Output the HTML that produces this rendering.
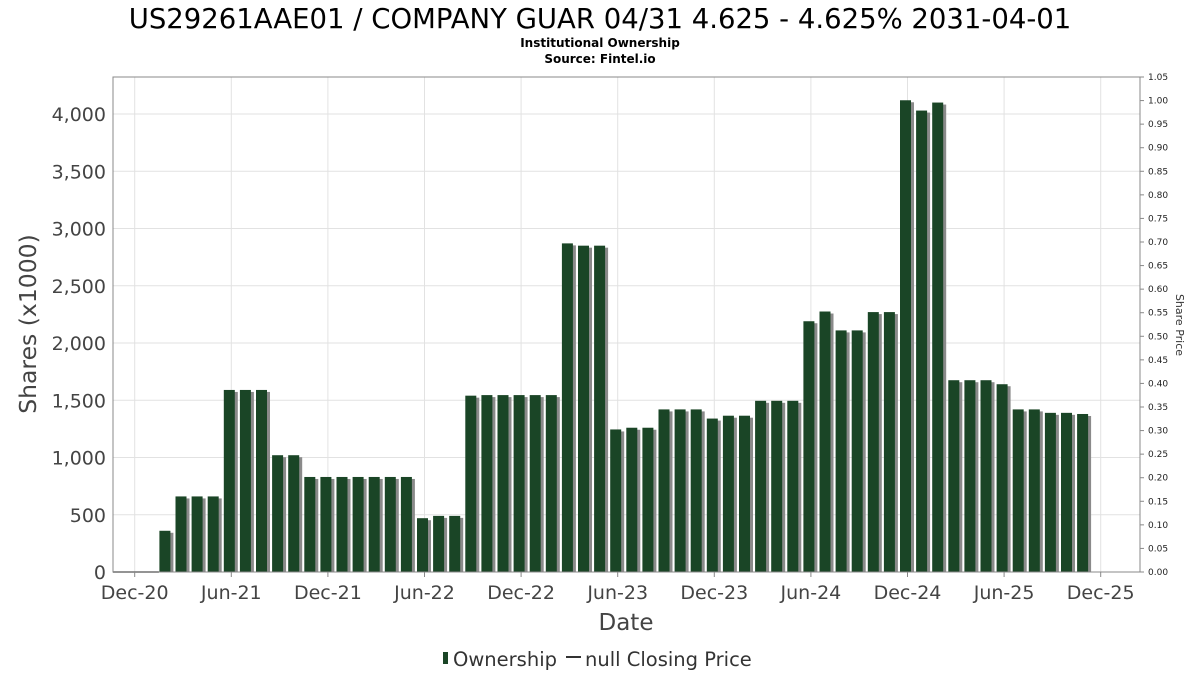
<!DOCTYPE html>
<html><head><meta charset="utf-8"><style>
body{margin:0;background:#fff;font-family:"DejaVu Sans","Liberation Sans",sans-serif}
svg text{font-family:"DejaVu Sans","Liberation Sans",sans-serif}
</style></head><body>
<svg id="c" width="1200" height="675" xmlns="http://www.w3.org/2000/svg">
<text x="600" y="28" text-anchor="middle" font-size="27.5" fill="#000">US29261AAE01 / COMPANY GUAR 04/31 4.625 - 4.625% 2031-04-01</text>
<text x="600" y="47" text-anchor="middle" font-size="12" font-weight="bold">Institutional Ownership</text>
<text x="600" y="63" text-anchor="middle" font-size="12" font-weight="bold">Source: Fintel.io</text>
<g id="grid"></g>
<g id="bars"></g>
<g id="axes"></g>
<text x="36" y="324" transform="rotate(-90 36 324)" text-anchor="middle" font-size="23.5" fill="#444">Shares (x1000)</text>
<text x="1176" y="325" transform="rotate(90 1176 325)" text-anchor="middle" font-size="11" fill="#333">Share Price</text>
<text x="626" y="630" text-anchor="middle" font-size="23" fill="#444">Date</text>
<g>
<rect x="443" y="652" width="5" height="12" fill="#1a4526"/>
<text x="453" y="666" font-size="19.5" fill="#333">Ownership</text>
<line x1="566" y1="657" x2="581" y2="657" stroke="#333" stroke-width="2"/>
<text x="585" y="666" font-size="19.5" fill="#333">null Closing Price</text>
</g>
</svg>
<script>
const months = [2,3,4,5,6,7,8,9,10,11,12,13,14,15,16,17,18,19,20,21,22,23,24,25,26,27,28,29,30,31,32,33,34,35,36,37,38,39,40,41,42,43,44,45,46,47,48,49,50,51,52,53,54,55,56,57,58,59];
const shares = [360,660,660,660,1590,1590,1590,1020,1020,830,830,830,830,830,830,830,470,490,490,1540,1545,1545,1545,1545,1545,2870,2850,2850,1245,1260,1260,1420,1420,1420,1340,1365,1365,1495,1495,1495,2190,2275,2110,2110,2270,2270,4120,4030,4100,1675,1675,1675,1640,1420,1420,1390,1390,1380];
const yTicks = [0,500,1000,1500,2000,2500,3000,3500,4000];
const yTickLabels = ["0","500","1,000","1,500","2,000","2,500","3,000","3,500","4,000"];
const xTickMonths = [0,6,12,18,24,30,36,42,48,54,60];
const xTickLabels = ["Dec-20","Jun-21","Dec-21","Jun-22","Dec-22","Jun-23","Dec-23","Jun-24","Dec-24","Jun-25","Dec-25"];
const priceTicks = [0,0.05,0.1,0.15,0.2,0.25,0.3,0.35,0.4,0.45,0.5,0.55,0.6,0.65,0.7,0.75,0.8,0.85,0.9,0.95,1.0,1.05];

const L=113,R=1140,T=77,B=572;
const y=v=>B-v*(B-114)/4000;
const yp=v=>B-v*(B-T)/1.05;
const x=m=>134.7+m*16.1;
const NS='http://www.w3.org/2000/svg';
function mk(tag,attrs,parent){const e=document.createElementNS(NS,tag);for(const k in attrs)e.setAttribute(k,attrs[k]);document.getElementById(parent).appendChild(e);return e;}
yTicks.forEach((v,i)=>{
  const g=mk('line',{x1:L,x2:R,y1:y(v),y2:y(v),stroke:'#e2e2e2'},'grid');
  
  
  const t=mk('text',{x:L-7,y:y(v)+7,'text-anchor':'end','font-size':19,fill:'#444'},'axes');
  t.textContent=yTickLabels[i];
  
  
});
xTickMonths.forEach((m,i)=>{
  const g=mk('line',{x1:x(m),x2:x(m),y1:T,y2:B,stroke:'#e2e2e2'},'grid');
  
  
  const tk=mk('line',{x1:x(m),x2:x(m),y1:B,y2:B+5,stroke:'#888'},'axes');
  
  
  const t=mk('text',{x:x(m),y:B+27,'text-anchor':'middle','font-size':19,fill:'#444'},'axes');
  t.textContent=xTickLabels[i];
  
  
});
priceTicks.forEach(v=>{
  const tk=mk('line',{x1:R,x2:R+4,y1:yp(v),y2:yp(v),stroke:'#888'},'axes');
  
  
  const t=mk('text',{x:R+8,y:yp(v)+3,'font-size':9,fill:'#222'},'axes');
  t.textContent=v.toFixed(2);
  
  
});
const fr=mk('rect',{x:L,y:T,width:R-L,height:B-T,fill:'none',stroke:'#888'},'axes');


const zl=mk('line',{x1:L,x2:x(2)-8,y1:B,y2:B,stroke:'#444','stroke-width':1.5},'bars');


months.forEach((m,i)=>{
  const cx=x(m)-2, w=11, top=y(shares[i]);
  const s=mk('rect',{x:cx-w/2+3,y:top+2,width:w,height:B-top-2,fill:'#8a8a8a'},'bars');
  
  
  const b=mk('rect',{x:cx-w/2,y:top,width:w,height:B-top,fill:'#1a4526'},'bars');
  
  
});
</script>
</body></html>
